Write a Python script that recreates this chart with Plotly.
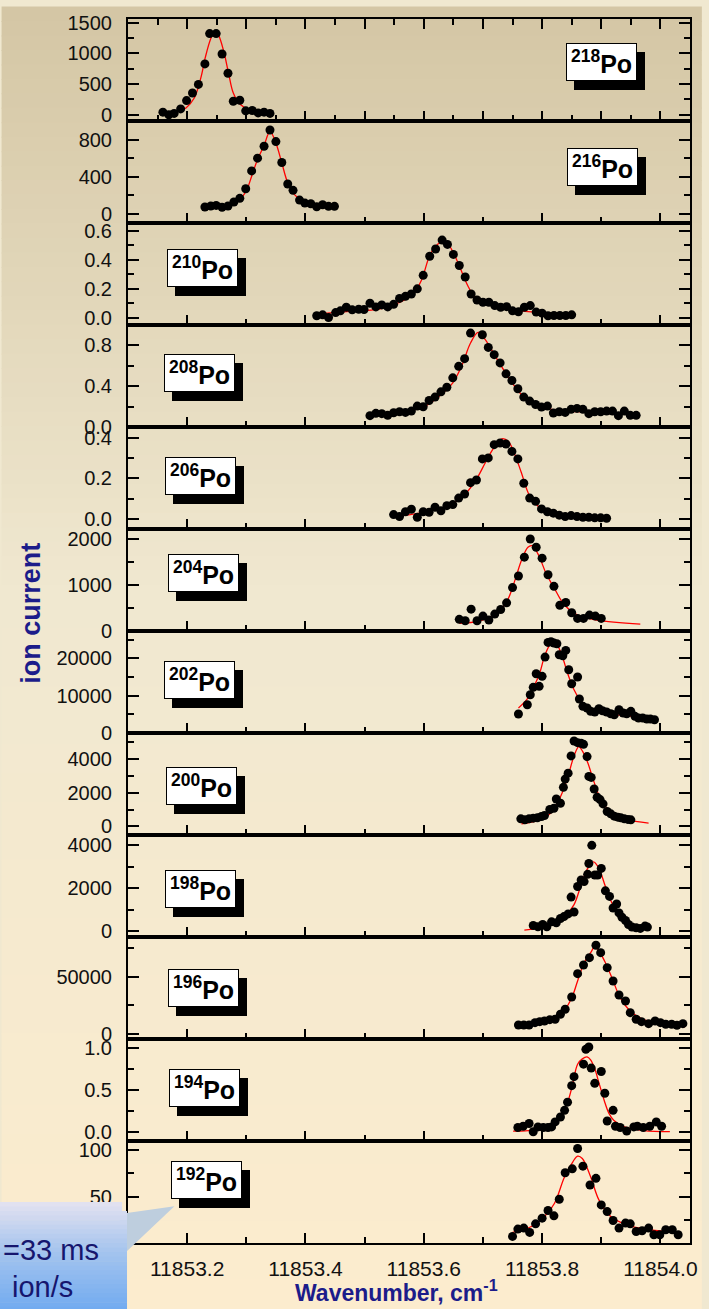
import plotly.graph_objects as go
from plotly.subplots import make_subplots

W, H = 709, 1309
L, R, T, B = 128, 12, 12, 66

isotopes = ["218", "216", "210", "208", "206", "204", "202", "200", "198", "196", "194", "192"]

# ---- measured points (wavenumber, ion current) and fitted curves ----
x218 = [11853.159, 11853.169, 11853.178, 11853.189, 11853.199, 11853.209, 11853.219, 11853.230, 11853.238, 11853.249,
        11853.259, 11853.269, 11853.278, 11853.289, 11853.299, 11853.310, 11853.320, 11853.330, 11853.340]
y218 = [44, 0, 23, 97, 232, 355, 495, 829, 1323, 1323, 990, 677, 221, 237, 65, 71, 32, 44, 23]
fx218 = [11853.162, 11853.181, 11853.198, 11853.212, 11853.223, 11853.231, 11853.240, 11853.247, 11853.253, 11853.262,
         11853.270, 11853.278, 11853.290, 11853.309, 11853.342]
fy218 = [32, 44, 113, 274, 597, 947, 1242, 1366, 1297, 1027, 677, 355, 168, 60, 16]

x216 = [11853.230, 11853.240, 11853.249, 11853.259, 11853.269, 11853.279, 11853.289, 11853.299, 11853.309, 11853.319,
        11853.330, 11853.340, 11853.350, 11853.360, 11853.370, 11853.379, 11853.390, 11853.399, 11853.409, 11853.419,
        11853.429, 11853.439, 11853.449]
y216 = [72, 83, 90, 69, 83, 126, 166, 269, 462, 599, 728, 903, 778, 553, 320, 252, 147, 115, 108, 75, 97, 80, 80]
fx216 = [11853.230, 11853.253, 11853.276, 11853.290, 11853.301, 11853.309, 11853.319, 11853.330, 11853.340, 11853.350,
         11853.360, 11853.370, 11853.381, 11853.398, 11853.420, 11853.449]
fy216 = [72, 83, 112, 161, 262, 405, 585, 735, 889, 763, 548, 333, 209, 126, 90, 72]

x210 = [11853.419, 11853.429, 11853.439, 11853.451, 11853.459, 11853.469, 11853.479, 11853.490, 11853.499, 11853.509,
        11853.519, 11853.529, 11853.539, 11853.549, 11853.559, 11853.569, 11853.579, 11853.589, 11853.599, 11853.610,
        11853.620, 11853.631, 11853.640, 11853.650, 11853.660, 11853.670, 11853.680, 11853.690, 11853.700, 11853.710,
        11853.720, 11853.730, 11853.740, 11853.750, 11853.760, 11853.770, 11853.780, 11853.790, 11853.800, 11853.810,
        11853.820, 11853.830, 11853.840, 11853.850]
y210 = [0.014, 0.020, 0.002, 0.036, 0.048, 0.073, 0.055, 0.059, 0.057, 0.100, 0.075, 0.089, 0.075, 0.093, 0.134,
        0.148, 0.164, 0.200, 0.293, 0.425, 0.475, 0.537, 0.507, 0.438, 0.361, 0.282, 0.164, 0.123, 0.107, 0.107,
        0.084, 0.073, 0.077, 0.048, 0.041, 0.073, 0.084, 0.039, 0.032, 0.014, 0.016, 0.016, 0.016, 0.020]
fx210 = [11853.420, 11853.470, 11853.526, 11853.559, 11853.582, 11853.596, 11853.610, 11853.621, 11853.632, 11853.640,
         11853.651, 11853.662, 11853.674, 11853.685, 11853.704, 11853.732, 11853.776, 11853.849]
fy210 = [0.027, 0.043, 0.061, 0.107, 0.162, 0.259, 0.430, 0.498, 0.532, 0.516, 0.441, 0.339, 0.225, 0.150, 0.100,
         0.066, 0.043, 0.029]

x208 = [11853.509, 11853.519, 11853.529, 11853.539, 11853.549, 11853.559, 11853.569, 11853.579, 11853.589, 11853.599,
        11853.609, 11853.619, 11853.629, 11853.639, 11853.649, 11853.659, 11853.669, 11853.679, 11853.699, 11853.709,
        11853.719, 11853.729, 11853.739, 11853.749, 11853.759, 11853.769, 11853.779, 11853.789, 11853.799, 11853.809,
        11853.819, 11853.829, 11853.839, 11853.849, 11853.859, 11853.869, 11853.879, 11853.889, 11853.899, 11853.909,
        11853.919, 11853.929, 11853.939, 11853.949, 11853.959]
y208 = [0.111, 0.134, 0.131, 0.114, 0.140, 0.150, 0.143, 0.156, 0.205, 0.199, 0.260, 0.293, 0.345, 0.390, 0.482,
        0.595, 0.670, 0.921, 0.904, 0.780, 0.709, 0.628, 0.521, 0.456, 0.375, 0.293, 0.254, 0.221, 0.195, 0.205,
        0.137, 0.150, 0.143, 0.173, 0.182, 0.173, 0.131, 0.150, 0.150, 0.156, 0.156, 0.111, 0.156, 0.114, 0.114]
fx208 = [11853.509, 11853.554, 11853.599, 11853.626, 11853.649, 11853.665, 11853.679, 11853.692, 11853.704, 11853.721,
         11853.743, 11853.765, 11853.788, 11853.816, 11853.860, 11853.916, 11853.960]
fy208 = [0.114, 0.137, 0.195, 0.302, 0.433, 0.612, 0.823, 0.927, 0.856, 0.693, 0.488, 0.319, 0.228, 0.173, 0.150,
         0.131, 0.121]

x206 = [11853.549, 11853.559, 11853.569, 11853.579, 11853.589, 11853.599, 11853.609, 11853.619, 11853.629, 11853.639,
        11853.649, 11853.659, 11853.669, 11853.679, 11853.689, 11853.699, 11853.709, 11853.719, 11853.729, 11853.739,
        11853.749, 11853.759, 11853.769, 11853.779, 11853.789, 11853.799, 11853.809, 11853.819, 11853.829, 11853.839,
        11853.849, 11853.859, 11853.869, 11853.879, 11853.889, 11853.899, 11853.909]
y206 = [0.021, 0.011, 0.035, 0.047, 0.008, 0.035, 0.032, 0.057, 0.040, 0.065, 0.070, 0.102, 0.122, 0.178, 0.191,
        0.295, 0.300, 0.365, 0.373, 0.368, 0.332, 0.295, 0.175, 0.102, 0.086, 0.049, 0.035, 0.028, 0.018, 0.011,
        0.016, 0.011, 0.008, 0.008, 0.005, 0.005, 0.003]
fx206 = [11853.549, 11853.593, 11853.637, 11853.665, 11853.687, 11853.704, 11853.718, 11853.732, 11853.743, 11853.754,
         11853.765, 11853.779, 11853.799, 11853.827, 11853.860, 11853.910]
fy206 = [0.011, 0.028, 0.060, 0.108, 0.186, 0.276, 0.348, 0.394, 0.381, 0.316, 0.227, 0.113, 0.049, 0.016, 0.005, 0.0]

x204 = [11853.660, 11853.670, 11853.680, 11853.690, 11853.700, 11853.710, 11853.720, 11853.730, 11853.740, 11853.750,
        11853.760, 11853.770, 11853.780, 11853.790, 11853.800, 11853.810, 11853.820, 11853.830, 11853.840, 11853.850,
        11853.860, 11853.870, 11853.880, 11853.890, 11853.900]
y204 = [252, 223, 473, 223, 323, 237, 366, 467, 610, 940, 1191, 1600, 1993, 1815, 1578, 1219, 968, 559, 617, 396,
        273, 273, 344, 323, 273]
fx204 = [11853.660, 11853.693, 11853.721, 11853.740, 11853.754, 11853.765, 11853.776, 11853.783, 11853.793, 11853.807,
         11853.821, 11853.838, 11853.860, 11853.893, 11853.966]
fy204 = [166, 215, 366, 632, 1097, 1527, 1815, 1849, 1671, 1241, 918, 559, 344, 237, 151]

x202 = [11853.760, 11853.775, 11853.780, 11853.785, 11853.790, 11853.795, 11853.800, 11853.805, 11853.810, 11853.815,
        11853.820, 11853.825, 11853.829, 11853.835, 11853.840, 11853.845, 11853.850, 11853.860, 11853.863, 11853.869,
        11853.876, 11853.882, 11853.889, 11853.896, 11853.902, 11853.909, 11853.916, 11853.922, 11853.930, 11853.937,
        11853.943, 11853.950, 11853.957, 11853.963, 11853.970, 11853.977, 11853.983, 11853.990]
y202 = [5081, 7568, 10242, 12220, 15857, 12488, 15162, 20322, 24253, 24413, 24066, 23879, 20937, 20670, 22114,
        16927, 13183, 14974, 9092, 7140, 6685, 5802, 5615, 6498, 5963, 5615, 5161, 4893, 6230, 5348, 5161, 5802,
        4466, 4011, 4011, 3744, 3744, 3556]
fx202 = [11853.760, 11853.774, 11853.785, 11853.796, 11853.804, 11853.813, 11853.820, 11853.827, 11853.835, 11853.843,
         11853.854, 11853.866, 11853.882, 11853.905, 11853.938, 11853.990]
fy202 = [6685, 8904, 12033, 16044, 20509, 23612, 24521, 23184, 20055, 16044, 11578, 8477, 6685, 5535, 4626, 4198]

x200 = [11853.764, 11853.771, 11853.778, 11853.785, 11853.792, 11853.799, 11853.804, 11853.813, 11853.820, 11853.824,
        11853.831, 11853.836, 11853.839, 11853.844, 11853.849, 11853.854, 11853.860, 11853.866, 11853.870, 11853.876,
        11853.879, 11853.883, 11853.888, 11853.893, 11853.898, 11853.903, 11853.910, 11853.916, 11853.922, 11853.928,
        11853.933, 11853.939, 11853.945, 11853.950]
y200 = [447, 388, 447, 488, 506, 588, 647, 1000, 1076, 1623, 1370, 2311, 2799, 3152, 4175, 5057, 4958, 4916, 4857,
        4134, 2958, 2899, 2211, 1723, 1588, 1329, 882, 741, 606, 547, 506, 447, 412, 388]
fx200 = [11853.765, 11853.793, 11853.816, 11853.832, 11853.844, 11853.854, 11853.862, 11853.868, 11853.877, 11853.888,
         11853.899, 11853.916, 11853.943, 11853.980]
fy200 = [153, 353, 841, 1823, 2999, 4175, 4722, 4469, 3781, 2605, 1623, 841, 412, 194]

x198 = [11853.785, 11853.793, 11853.801, 11853.808, 11853.816, 11853.824, 11853.831, 11853.837, 11853.844, 11853.849,
        11853.854, 11853.860, 11853.866, 11853.871, 11853.877, 11853.879, 11853.884, 11853.889, 11853.894, 11853.900,
        11853.907, 11853.914, 11853.920, 11853.926, 11853.930, 11853.935, 11853.941, 11853.946, 11853.952, 11853.959,
        11853.966, 11853.974, 11853.978]
y198 = [261, 200, 307, 200, 430, 384, 584, 676, 799, 1582, 891, 2075, 2382, 2305, 2643, 3150, 3995, 2612, 2612, 2919,
        1875, 1614, 1076, 1260, 845, 645, 491, 307, 184, 154, 123, 231, 184]
fx198 = [11853.770, 11853.793, 11853.821, 11853.841, 11853.854, 11853.866, 11853.877, 11853.887, 11853.896, 11853.907,
         11853.918, 11853.932, 11853.949, 11853.978]
fy198 = [46, 152, 429, 770, 1231, 2153, 2918, 3227, 2918, 2075, 1305, 692, 309, 124]

x196 = [11853.760, 11853.769, 11853.778, 11853.788, 11853.796, 11853.804, 11853.813, 11853.822, 11853.831, 11853.839,
        11853.850, 11853.860, 11853.870, 11853.880, 11853.891, 11853.899, 11853.910, 11853.920, 11853.930, 11853.941,
        11853.949, 11853.959, 11853.968, 11853.980, 11853.991, 11854.000, 11854.009, 11854.019, 11854.028, 11854.038]
y196 = [7632, 7632, 7632, 9649, 10526, 11140, 12281, 12632, 17018, 21404, 32193, 52632, 60263, 66667, 77544, 71053,
        57895, 46228, 33947, 28684, 18421, 12632, 10526, 8772, 11140, 9649, 8246, 8246, 7368, 8772]
fx196 = [11853.760, 11853.804, 11853.832, 11853.849, 11853.860, 11853.871, 11853.882, 11853.889, 11853.896, 11853.907,
         11853.918, 11853.932, 11853.949, 11853.971, 11854.005, 11854.041]
fy196 = [5877, 9649, 17018, 30175, 46228, 62281, 71053, 76053, 72544, 62281, 49123, 31579, 19912, 12632, 8772, 5877]

x194 = [11853.759, 11853.768, 11853.778, 11853.785, 11853.793, 11853.802, 11853.810, 11853.816, 11853.822, 11853.831,
        11853.838, 11853.843, 11853.850, 11853.854, 11853.870, 11853.874, 11853.879, 11853.883, 11853.889, 11853.900,
        11853.906, 11853.910, 11853.920, 11853.924, 11853.932, 11853.943, 11853.955, 11853.961, 11853.971, 11853.982,
        11853.993, 11854.002]
y194 = [0.055, 0.070, 0.102, 0.004, 0.062, 0.055, 0.055, 0.062, 0.121, 0.179, 0.258, 0.355, 0.550, 0.656, 0.804,
        0.980, 1.007, 0.758, 0.577, 0.718, 0.460, 0.132, 0.258, 0.070, 0.055, 0.012, 0.062, 0.070, 0.055, 0.070,
        0.121, 0.070]
fx194 = [11853.751, 11853.782, 11853.816, 11853.832, 11853.843, 11853.851, 11853.860, 11853.868, 11853.876, 11853.882,
         11853.889, 11853.896, 11853.905, 11853.913, 11853.921, 11853.938, 11853.972, 11854.016]
fy194 = [0.012, 0.023, 0.102, 0.219, 0.355, 0.550, 0.804, 0.867, 0.890, 0.855, 0.749, 0.586, 0.375, 0.222, 0.141,
         0.064, 0.018, 0.006]

x192 = [11853.750, 11853.759, 11853.769, 11853.779, 11853.789, 11853.800, 11853.810, 11853.820, 11853.829, 11853.839,
        11853.851, 11853.860, 11853.869, 11853.881, 11853.891, 11853.900, 11853.910, 11853.920, 11853.930, 11853.941,
        11853.949, 11853.959, 11853.969, 11853.980, 11853.989, 11853.999, 11854.009, 11854.020, 11854.030]
y192 = [7.1, 15.0, 16.1, 11.4, 20.7, 26.8, 35.0, 29.3, 47.2, 75.8, 80.0, 101.9, 82.9, 62.6, 69.7, 41.1, 33.9, 24.3,
        16.1, 21.5, 20.7, 12.4, 13.2, 16.1, 8.9, 8.9, 14.3, 14.3, 8.9]
fx192 = [11853.750, 11853.782, 11853.804, 11853.821, 11853.838, 11853.852, 11853.860, 11853.868, 11853.882, 11853.896,
         11853.916, 11853.943, 11853.982, 11854.030]
fy192 = [11.4, 17.8, 28.5, 42.9, 71.5, 87.6, 93.7, 91.2, 71.5, 46.5, 28.5, 19.6, 14.3, 11.4]

points = [(x218, y218), (x216, y216), (x210, y210), (x208, y208), (x206, y206), (x204, y204),
          (x202, y202), (x200, y200), (x198, y198), (x196, y196), (x194, y194), (x192, y192)]
fits = [(fx218, fy218), (fx216, fy216), (fx210, fy210), (fx208, fy208), (fx206, fy206), (fx204, fy204),
        (fx202, fy202), (fx200, fy200), (fx198, fy198), (fx196, fy196), (fx194, fy194), (fx192, fy192)]

# y axes of the panels
y_ranges = [[-100, 1560], [-100, 1000], [-0.05, 0.655], [0, 1.0], [-0.05, 0.452], [0, 2210],
            [0, 27300], [-510, 5530], [-276, 4475], [-4650, 84800], [-0.105, 1.102], [0, 110]]
y_dtick = [500, 400, 0.2, 0.4, 0.2, 1000, 10000, 2000, 2000, 50000, 0.5, 50]
y_minor = [250, 200, 0.1, 0.2, 0.1, 500, 5000, 1000, 1000, 25000, 0.25, 25]
y_fmt = ["d", "d", ".1f", ".1f", ".1f", "d", "d", "d", "d", "d", ".1f", "d"]

# label box centres, in pixels of the picture
label_px = [(607, 55), (608, 161), (203, 262), (200, 368), (201, 472), (204, 569),
            (200, 677), (202, 783), (201, 887), (204, 987), (205, 1087), (207, 1180)]

x_range = [11853.1, 11854.05]
FONT = "Liberation Sans, Arial, sans-serif"
NARROW = "Liberation Sans Narrow, Arial Narrow, Liberation Sans, Arial, sans-serif"
NAVY = "#1c1c8a"


def px_x(px):
    return (px - L) / (W - L - R)


def px_y(py):
    return (H - B - py) / (H - T - B)


def mix(c1, c2, t):
    return "rgb(%d,%d,%d)" % tuple(round(a + (b - a) * t) for a, b in zip(c1, c2))


fig = make_subplots(rows=12, cols=1, shared_xaxes=True, vertical_spacing=0)

for i, ((px_, py_), (fx, fy)) in enumerate(zip(points, fits), start=1):
    fig.add_trace(go.Scatter(x=fx, y=fy, mode="lines", line=dict(color="#ff0000", width=1.3, shape="spline"),
                             hoverinfo="skip", showlegend=False), row=i, col=1)
    fig.add_trace(go.Scatter(x=px_, y=py_, mode="markers", marker=dict(color="black", size=9),
                             showlegend=False), row=i, col=1)

    fig.update_xaxes(row=i, col=1, range=x_range, showline=True, linewidth=2, linecolor="black",
                     mirror="ticks" if i == 1 else True, ticks="inside", ticklen=10, tickwidth=2,
                     tickcolor="black", tick0=11853.0, dtick=0.1 if i == 1 else 0.2,
                     minor=dict(ticks="inside", ticklen=6, tickwidth=2, tickcolor="black",
                                dtick=0.05 if i == 1 else 0.1, showgrid=False),
                     showticklabels=(i == 12), tickformat=".1f", ticklabelstandoff=6,
                     tickfont=dict(family=FONT, size=21, color="#111"),
                     showgrid=False, zeroline=False)
    fig.update_yaxes(row=i, col=1, range=y_ranges[i - 1], showline=True, linewidth=2, linecolor="black",
                     mirror="ticks", ticks="inside", ticklen=11, tickwidth=2, tickcolor="black",
                     tick0=0, dtick=y_dtick[i - 1], tickformat=y_fmt[i - 1],
                     minor=dict(ticks="inside", ticklen=6, tickwidth=2, tickcolor="black",
                                dtick=y_minor[i - 1], showgrid=False),
                     ticklabelstandoff=10, tickfont=dict(family=FONT, size=20, color="#111"),
                     showgrid=False, zeroline=False)

shapes = []
# background gradient of the slide
top_c, mid_c, bot_c = (212, 198, 164), (240, 232, 208), (252, 236, 206)
n = 90
for k in range(n):
    t = (k + 0.5) / n
    c = mix(top_c, mid_c, t / 0.45) if t < 0.45 else mix(mid_c, bot_c, (t - 0.45) / 0.55)
    shapes.append(dict(type="rect", xref="paper", yref="paper", layer="below", line=dict(width=0),
                       x0=px_x(0), x1=px_x(W), y0=px_y(H * k / n - 0.5), y1=px_y(H * (k + 1) / n + 0.5),
                       fillcolor=c))

# call-out in the lower left corner
shapes.append(dict(type="path", xref="paper", yref="paper", layer="above", line=dict(width=0),
                   fillcolor="rgb(190,206,222)",
                   path="M %f,%f L %f,%f L %f,%f Z" % (px_x(118), px_y(1214), px_x(175), px_y(1206),
                                                        px_x(126), px_y(1252))))
cb_top, cb_mid, cb_bot = (228, 226, 240), (165, 196, 238), (112, 170, 240)
m = 24
y0c, y1c = 1202, 1312
for k in range(m):
    t = (k + 0.5) / m
    c = mix(cb_top, cb_mid, t / 0.45) if t < 0.45 else mix(cb_mid, cb_bot, (t - 0.45) / 0.55)
    ya = y0c + (y1c - y0c) * k / m
    yb = y0c + (y1c - y0c) * (k + 1) / m
    shapes.append(dict(type="rect", xref="paper", yref="paper", layer="above", line=dict(width=0),
                       x0=px_x(-2), x1=px_x(127 if k > 1 else 122), y0=px_y(ya - 0.3), y1=px_y(yb + 0.3),
                       fillcolor=c))

annotations = []
for iso, (cx, cy) in zip(isotopes, label_px):
    txt = "<b><sup>%s</sup>Po</b>" % iso
    for shadow in (True, False):
        annotations.append(dict(
            xref="paper", yref="paper", x=px_x(cx), y=px_y(cy), text=txt, showarrow=False,
            xanchor="center", yanchor="middle", width=67, height=34, align="center", valign="middle",
            xshift=8 if shadow else 0, yshift=-9 if shadow else 0,
            bgcolor="black" if shadow else "white", bordercolor="black", borderwidth=1, borderpad=1,
            font=dict(family=FONT, size=25, color="black")))

annotations.append(dict(xref="paper", yref="paper", x=px_x(29), y=px_y(610), text="<b>ion current</b>",
                        textangle=-90, showarrow=False, xanchor="center", yanchor="middle",
                        font=dict(family=NARROW, size=27, color=NAVY)))
annotations.append(dict(xref="paper", yref="paper", x=px_x(400), y=px_y(1308),
                        text="<b>Wavenumber, cm<sup>-1</sup></b>", showarrow=False,
                        xanchor="center", yanchor="bottom", font=dict(family=NARROW, size=23, color=NAVY)))
annotations.append(dict(xref="paper", yref="paper", x=px_x(101), y=px_y(1250), text="=33 ms",
                        showarrow=False, xanchor="right", yanchor="middle",
                        font=dict(family=FONT, size=29, color="#16166e")))
annotations.append(dict(xref="paper", yref="paper", x=px_x(74), y=px_y(1287), text="ion/s",
                        showarrow=False, xanchor="right", yanchor="middle",
                        font=dict(family=FONT, size=29, color="#16166e")))

fig.update_layout(width=W, height=H, margin=dict(l=L, r=R, t=T, b=B),
                  paper_bgcolor="rgb(240,232,208)", plot_bgcolor="rgba(0,0,0,0)",
                  showlegend=False, shapes=shapes, annotations=annotations,
                  font=dict(family=FONT, color="#111"))

# page without the browser's default body margin, no mode bar
fig.write_html("out.html", config={"displayModeBar": False},
               post_script="document.body.style.margin='0';document.body.style.overflow='hidden';")
